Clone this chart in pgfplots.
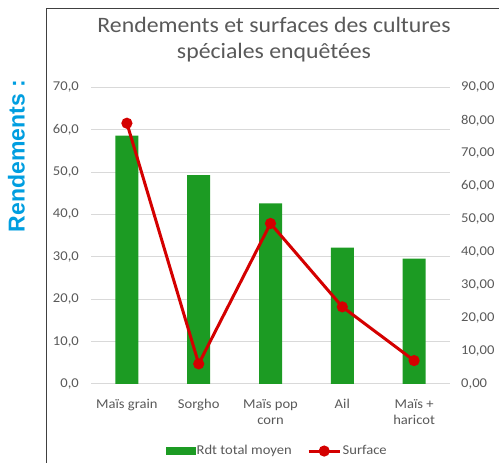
\documentclass[border=0pt]{standalone}
\usepackage{fontspec}
\setmainfont{Carlito}[FakeStretch=1.08]
\newfontfamily\arialfont{Liberation Sans}
\usepackage{pgfplots}
\pgfplotsset{compat=1.18}

\definecolor{barg}{RGB}{28,155,35}
\definecolor{liner}{RGB}{212,0,0}
\definecolor{txtgray}{RGB}{89,89,89}
\definecolor{gridgray}{RGB}{217,217,217}
\definecolor{titleblue}{RGB}{0,158,224}
\definecolor{framegray}{RGB}{64,64,64}

\begin{document}
\begin{tikzpicture}[x=1bp,y=1bp]
\useasboundingbox (0,0) rectangle (499,463);
% cadre du graphique
\draw[framegray, line width=1bp] (46.5,-20) -- (46.5,454.5) -- (520,454.5);

% titre
\node[anchor=base, text=txtgray, inner sep=0pt, font=\fontsize{22bp}{26bp}\selectfont]
  at (274,430.7) {Rendements et surfaces des cultures};
\node[anchor=base, text=txtgray, inner sep=0pt, font=\fontsize{22bp}{26bp}\selectfont]
  at (274,404.7) {spéciales enquêtées};

% libelle a gauche
\node[rotate=90, text=titleblue, inner sep=0pt, font=\arialfont\bfseries\fontsize{23bp}{27bp}\selectfont]
  at (16.5,307) {Rendements :};

\begin{axis}[
    at={(91bp,79bp)}, anchor=south west,
    scale only axis, width=359bp, height=296.7bp,
    xmin=-0.5, xmax=4.5, ymin=0, ymax=70,
    axis line style={draw=none},
    major tick length=0pt,
    xtick={0,1,2,3,4},
    xticklabels={Maïs grain, Sorgho, {Maïs pop\\corn}, Ail, {Maïs +\\haricot}},
    xticklabel style={align=center, inner sep=0pt, yshift=-15bp,
        font=\fontsize{13.5bp}{16bp}\selectfont, text=txtgray},
    ytick={0,10,...,70},
    yticklabel style={inner sep=0pt, anchor=east, xshift=-12bp,
        font=\fontsize{13.5bp}{15bp}\selectfont, text=txtgray,
        /pgf/number format/.cd, fixed, fixed zerofill, precision=1, use comma,
        assume math mode=true},
    ymajorgrids, grid style={draw=gridgray, line width=1bp},
    clip=false,
]
\addplot[ybar, bar width=23bp, fill=barg, draw=none]
    coordinates {(0,58.6) (1,49.3) (2,42.6) (3,32.2) (4,29.6)};
\end{axis}

\begin{axis}[
    at={(91bp,79bp)}, anchor=south west,
    scale only axis, width=359bp, height=296.7bp,
    xmin=-0.5, xmax=4.5, ymin=0, ymax=90,
    axis line style={draw=none},
    major tick length=0pt,
    xtick=\empty,
    ytick={0,10,...,90},
    yticklabel pos=right,
    yticklabel style={inner sep=0pt, anchor=west, xshift=11bp,
        font=\fontsize{13.5bp}{15bp}\selectfont, text=txtgray,
        /pgf/number format/.cd, fixed, fixed zerofill, precision=2, use comma,
        assume math mode=true},
    clip=false,
    legend columns=2,
    legend style={at={(0.518,-0.226)}, anchor=center, draw=none, fill=none,
        font=\fontsize{13.5bp}{15bp}\selectfont, text=txtgray,
        inner sep=0pt, row sep=0pt,
        /tikz/every even column/.append style={column sep=14bp},
        nodes={inner sep=1.5bp}},
]
\addlegendimage{legend image code/.code={\fill[barg] (0bp,-3.5bp) rectangle (29bp,3.5bp);}}
\addlegendentry{Rdt total moyen}
\addplot[liner, line width=3bp, mark=*, mark size=4bp,
    legend image code/.code={\draw[liner, line width=3bp] (0bp,0bp) -- (31bp,0bp);
        \fill[liner] (15.5bp,0bp) circle (4bp);}]
    coordinates {(0,79.1) (1,6.1) (2,48.7) (3,23.4) (4,7.1)};
\addlegendentry{Surface}
\end{axis}
\end{tikzpicture}
\end{document}
